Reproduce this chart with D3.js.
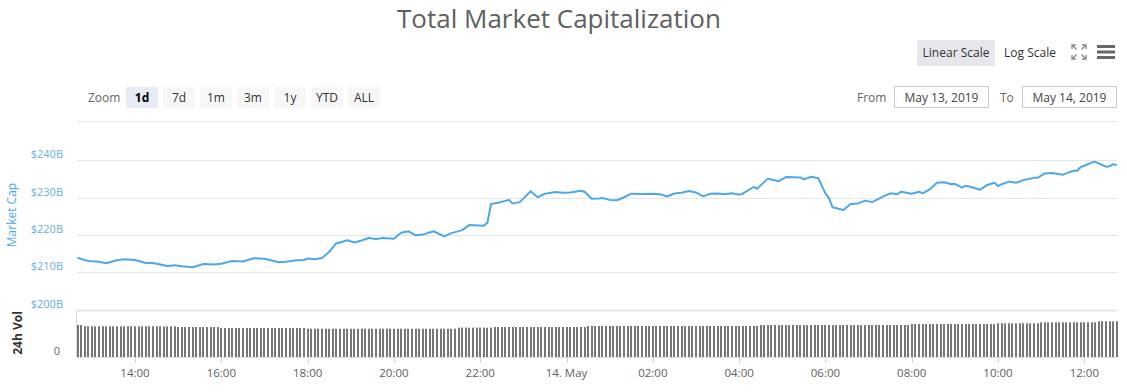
<!DOCTYPE html>
<html><head><meta charset="utf-8">
<script src="https://cdn.jsdelivr.net/npm/d3@7"></script>
<style>body{margin:0;background:#fff;} svg{display:block;font-family:"Open Sans",sans-serif;}</style>
</head><body><svg id="c" width="1127" height="392"></svg>
<script>
const title = "Total Market Capitalization";
const zoomLabel = "Zoom";
const zoomButtons = ["1d","7d","1m","3m","1y","YTD","ALL"];
const selectedZoom = "1d";
const scaleButtons = ["Linear Scale","Log Scale"];
const fromLabel = "From", toLabel = "To";
const fromDate = "May 13, 2019", toDate = "May 14, 2019";
const capTicks = [200,210,220,230,240,250];
const capAxisTitle = "Market Cap";
const volAxisTitle = "24h Vol";
const volTicks = [0];

const capTimes = [
"13 12:40","13 12:55","13 13:10","13 13:20","13 13:35","13 13:45","13 14:00","13 14:15","13 14:25","13 14:45",
"13 14:55","13 15:05","13 15:20","13 15:35","13 15:50","13 16:00","13 16:15","13 16:30","13 16:45","13 17:00",
"13 17:20","13 17:30","13 17:45","13 17:55","13 18:00","13 18:10","13 18:20","13 18:30","13 18:40","13 18:45",
"13 18:55","13 19:05","13 19:15","13 19:25","13 19:35","13 19:45","13 20:00","13 20:10","13 20:20","13 20:30",
"13 20:40","13 20:55","13 21:10","13 21:20","13 21:35","13 21:45","13 22:05","13 22:10","13 22:15","13 22:25",
"13 22:40","13 22:45","13 22:55","13 23:10","13 23:20","13 23:30","13 23:45","13 23:55",
"14 00:05","14 00:20","14 00:25","14 00:35","14 00:45","14 00:50","14 01:00","14 01:10","14 01:20","14 01:30",
"14 01:45","14 02:00","14 02:10","14 02:20","14 02:30","14 02:40","14 02:50","14 03:00","14 03:10","14 03:20",
"14 03:30","14 03:40","14 03:50","14 04:00","14 04:05","14 04:20","14 04:25","14 04:40","14 04:55","14 05:05",
"14 05:25","14 05:30","14 05:40","14 05:50","14 06:00","14 06:05","14 06:10","14 06:25","14 06:35","14 06:45",
"14 06:55","14 07:05","14 07:20","14 07:30","14 07:40","14 07:45","14 08:00","14 08:10","14 08:15","14 08:25",
"14 08:35","14 08:45","14 08:55","14 09:00","14 09:10","14 09:15","14 09:20","14 09:35","14 09:45","14 09:55",
"14 10:00","14 10:05","14 10:15","14 10:25","14 10:35","14 10:45","14 10:50","14 10:55","14 11:05","14 11:15",
"14 11:30","14 11:35","14 11:45","14 11:50","14 11:55","14 12:00","14 12:10","14 12:15","14 12:20","14 12:30",
"14 12:35","14 12:40","14 12:45"];
const capValues = [
213.9,213.0,212.8,212.4,213.2,213.5,213.3,212.5,212.5,211.7,
211.9,211.6,211.35,212.2,212.1,212.3,213.0,212.9,213.75,213.6,
212.7,212.8,213.2,213.3,213.7,213.5,213.8,215.5,217.8,218.0,
218.6,218.0,218.5,219.2,218.9,219.2,219.0,220.6,221.0,219.9,
220.1,221.0,219.6,220.5,221.3,222.7,222.5,223.3,228.3,228.65,
229.4,228.4,228.8,231.7,230.1,231.05,231.5,231.3,
231.4,231.85,231.6,229.7,229.8,229.9,229.4,229.3,230.1,231.05,
231.0,231.05,230.9,230.3,231.1,231.3,231.8,231.4,230.35,231.05,
231.1,230.9,231.2,230.8,231.05,232.85,232.4,235.1,234.4,235.5,
235.4,234.9,235.6,235.2,231.15,229.8,227.4,226.7,228.3,228.4,
229.2,228.8,230.25,231.15,230.9,231.6,231.05,231.6,231.15,232.2,
234.0,234.1,233.6,233.7,232.7,233.2,233.0,232.1,233.4,234.0,
233.1,233.6,234.3,234.0,234.7,235.1,235.3,235.3,236.5,236.6,
236.15,236.5,237.2,237.2,238.2,238.55,239.4,239.6,239.2,238.3,
238.4,239.0,238.6];

const volStart = "13 12:40", volEnd = "14 12:45", volStepMin = 5;
const volValues = [
68.1,68.0,
65.5,65.4,65.4,65.3,65.3,65.4,65.4,65.3,65.3,65.3,65.4,65.4,65.3,65.3,65.3,65.2,65.3,65.3,65.4,65.4,65.3,65.3,65.2,65.2,65.3,65.3,
63.8,63.8,63.9,63.8,63.7,63.8,63.8,63.8,63.7,63.8,63.8,63.7,
61.8,61.7,61.7,61.8,61.7,61.7,61.6,61.7,61.7,61.8,61.7,61.7,61.7,61.6,61.7,61.7,61.8,61.7,61.7,61.6,61.7,61.7,61.7,61.6,
60.3,60.2,60.2,60.2,60.3,60.2,60.1,60.2,60.2,60.2,60.2,60.3,60.2,60.2,60.1,60.2,60.2,60.2,60.3,60.2,60.2,60.2,60.1,60.2,60.2,60.2,60.3,60.2,60.2,60.2,60.2,60.1,60.2,60.2,60.2,60.3,60.2,60.2,60.2,60.2,60.2,60.3,
62.4,62.5,62.5,62.4,62.5,62.5,62.6,62.5,62.5,62.4,
63.9,63.8,63.8,63.8,63.9,63.8,63.7,63.8,63.8,63.9,63.8,63.8,63.8,63.9,63.8,63.8,63.7,63.8,63.8,63.8,63.9,63.8,63.8,63.8,63.9,63.8,
66.0,66.1,66.0,66.0,65.9,66.0,66.0,66.1,66.0,66.0,66.0,65.9,66.0,66.0,66.1,66.0,66.0,65.9,66.0,66.0,66.1,66.0,66.0,66.0,
66.1,66.0,66.0,65.9,66.0,66.0,66.1,66.0,66.0,66.0,65.9,66.0,66.0,66.1,66.0,66.0,66.0,66.1,66.0,65.9,66.0,66.0,66.1,66.0,
68.1,68.0,68.1,68.1,68.2,68.1,68.0,68.1,68.1,68.1,68.2,68.1,68.1,68.0,68.1,68.1,68.1,68.2,68.1,68.1,68.0,68.1,68.1,68.1,68.2,68.1,68.1,68.0,68.1,68.1,68.1,68.2,68.1,68.1,68.0,68.1,68.1,68.1,68.2,68.1,68.1,68.1,
70.2,70.1,70.2,70.2,70.3,70.2,70.2,70.1,70.2,70.2,70.2,70.3,70.2,70.2,70.1,70.2,70.2,70.3,70.2,70.2,70.2,70.1,70.2,70.2,
71.7,71.8,71.7,71.7,71.6,71.7,71.7,71.8,71.7,71.7,71.7,71.6,
73.8,73.8,73.9,73.8,73.7,73.8,73.8,73.9,73.8,73.8,73.7,73.8,73.8,73.9,73.8,73.8,
76.0,76.1,76.0,76.0,75.9,76.0];

const parse = s => d3.utcParse("%Y-%m-%d %H:%M")("2019-05-" + s);
const capData = capTimes.map((t,i) => ({t: parse(t), v: capValues[i]}));
const volTimes = d3.utcMinute.every(volStepMin).range(parse(volStart), d3.utcMinute.offset(parse(volEnd), 1));
const volData = volTimes.slice(0, volValues.length).map((t,i) => ({t, v: volValues[i]}));

const svg = d3.select("#c");
const L = 77, R = 1117, capTop = 121, capBottomY = 309.6, volTop = 310, volBottom = 357;

const x = d3.scaleUtc().domain([parse(volStart), parse(volEnd)]).range([77.5, 1116.7]);
const y = d3.scaleLinear().domain([200, 250]).range([capBottomY, 123]);
const yv = d3.scaleLinear().domain([0, 100]).range([volBottom, volTop]);

// Title
svg.append("text").attr("x", 559).attr("y", 28).attr("text-anchor", "middle")
  .attr("font-size", 26).attr("fill", "#606060").text(title);

// Scale buttons
const sbX = [917, 999], sbW = [78, 62];
scaleButtons.forEach((b,i) => {
  if (i === 0) svg.append("rect").attr("x", sbX[i]).attr("y", 40).attr("width", sbW[i]).attr("height", 26).attr("rx", 2).attr("fill", "#e6e7ea");
  svg.append("text").attr("x", sbX[i] + sbW[i]/2).attr("y", 57).attr("text-anchor", "middle")
    .attr("font-size", 12).attr("fill", "#333").text(b);
});
// Fullscreen icon
const fi = svg.append("g").attr("stroke", "#8a8a8a").attr("stroke-width", 1.3).attr("fill", "none");
[[1072,45,1,1],[1086,45,-1,1],[1072,59,1,-1],[1086,59,-1,-1]].forEach(([cx,cy,dx,dy]) => {
  fi.append("path").attr("d", `M${cx},${cy+dy*4}L${cx},${cy}L${cx+dx*4},${cy}M${cx},${cy}L${cx+dx*4.5},${cy+dy*4.5}`);
});
// Hamburger
[46.5, 52, 57.5].forEach(yy => svg.append("rect").attr("x", 1097).attr("y", yy - 1.5).attr("width", 18).attr("height", 3).attr("fill", "#666"));

// Zoom buttons
svg.append("text").attr("x", 88).attr("y", 102).attr("font-size", 12).attr("fill", "#666").text(zoomLabel);
zoomButtons.forEach((b,i) => {
  const bx = 126 + i*37;
  const sel = b === selectedZoom;
  svg.append("rect").attr("x", bx).attr("y", 87).attr("width", 32).attr("height", 21).attr("rx", 2)
    .attr("fill", sel ? "#e6ebf5" : "#f7f7f7");
  svg.append("text").attr("x", bx + 16).attr("y", 102).attr("text-anchor", "middle").attr("font-size", 12)
    .attr("font-weight", sel ? "bold" : "normal").attr("fill", sel ? "#000" : "#333").text(b);
});
// Date inputs
svg.append("text").attr("x", 857).attr("y", 102).attr("font-size", 12).attr("fill", "#666").text(fromLabel);
svg.append("text").attr("x", 1000).attr("y", 102).attr("font-size", 12).attr("fill", "#666").text(toLabel);
[[894.5, fromDate],[1022.5, toDate]].forEach(([bx, t]) => {
  svg.append("rect").attr("x", bx).attr("y", 86.5).attr("width", 94).attr("height", 21).attr("fill", "#fff").attr("stroke", "#ccc");
  svg.append("text").attr("x", bx + 47).attr("y", 102).attr("text-anchor", "middle").attr("font-size", 12).attr("fill", "#444").text(t);
});

// Gridlines
svg.append("line").attr("x1", L).attr("x2", R).attr("y1", capTop + 0.5).attr("y2", capTop + 0.5).attr("stroke", "#e6e6e6");
capTicks.forEach(v => {
  const yy = Math.round(y(v)) + 0.5;
  if (v === 250) return;
  svg.append("line").attr("x1", L).attr("x2", R).attr("y1", yy).attr("y2", yy)
    .attr("stroke", "#e6e6e6").attr("stroke-width", v === 200 ? 2 : 1);
  svg.append("text").attr("x", 63).attr("y", y(v) - 2).attr("text-anchor", "end").attr("font-size", 11)
    .attr("fill", "#6aaee2").text("$" + v + "B");
});
// Axis titles
svg.append("text").attr("transform", `translate(16,215) rotate(-90)`).attr("text-anchor", "middle")
  .attr("font-size", 12).attr("fill", "#4ea8e6").text(capAxisTitle);
svg.append("text").attr("transform", `translate(21.5,333) rotate(-90)`).attr("text-anchor", "middle")
  .attr("font-size", 12).attr("font-weight", "bold").attr("fill", "#333").text(volAxisTitle);

// Volume y-axis line & label
svg.append("line").attr("x1", 76.5).attr("x2", 76.5).attr("y1", volTop).attr("y2", volBottom).attr("stroke", "#d8d8d8");
volTicks.forEach(v => svg.append("text").attr("x", 60).attr("y", yv(v) - 2.5).attr("text-anchor", "end")
  .attr("font-size", 11).attr("fill", "#666").text(v));

// Volume bars
svg.append("g").selectAll("rect").data(volData).join("rect")
  .attr("x", d => Math.round(x(d.t) - 1)).attr("width", 2)
  .attr("y", d => yv(d.v)).attr("height", d => yv(0) - yv(d.v)).attr("fill", "#777");

// Line
svg.append("defs").append("clipPath").attr("id", "clip").append("rect").attr("x", L).attr("y", capTop).attr("width", R - L).attr("height", capBottomY - capTop);
svg.append("path").datum(capData).attr("clip-path", "url(#clip)")
  .attr("d", d3.line().x(d => x(d.t)).y(d => y(d.v)))
  .attr("fill", "none").attr("stroke", "#4ea8e6").attr("stroke-width", 2).attr("stroke-linejoin", "round");

// X axis
svg.append("line").attr("x1", L).attr("x2", R).attr("y1", volBottom + 0.5).attr("y2", volBottom + 0.5).attr("stroke", "#e0e0e0");
const ticks = d3.utcHour.every(2).range(d3.utcHour.ceil(x.domain()[0]), x.domain()[1]);
const fmtH = d3.utcFormat("%H:%M"), fmtD = d3.utcFormat("%-d. %b");
ticks.forEach(t => {
  const xx = Math.round(x(t)) + 0.5;
  svg.append("line").attr("x1", xx).attr("x2", xx).attr("y1", volBottom).attr("y2", volBottom + 6).attr("stroke", "#ccd6eb");
  svg.append("text").attr("x", x(t)).attr("y", 377).attr("text-anchor", "middle").attr("font-size", 11.5)
    .attr("fill", "#606060").text(t.getUTCHours() === 0 ? fmtD(t) : fmtH(t));
});
</script></body></html>
